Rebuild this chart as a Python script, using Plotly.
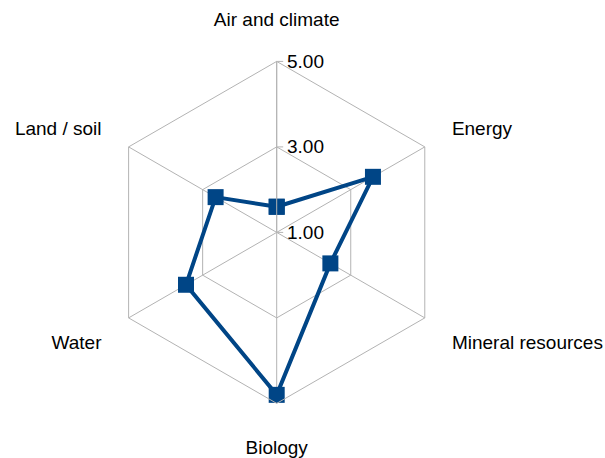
import plotly.graph_objects as go

categories = ["Air and climate", "Energy", "Mineral resources", "Biology", "Water", "Land / soil"]
values = [1.6, 3.6, 2.45, 4.8, 3.45, 2.65]
radial_ticks = [1, 3, 5]
radial_ticktext = ["1.00", "3.00", "5.00"]

fig = go.Figure()
fig.add_trace(go.Scatterpolar(
    r=values + values[:1],
    theta=categories + categories[:1],
    mode="lines+markers",
    line=dict(color="#004586", width=4),
    marker=dict(symbol="square", size=16, color="#004586"),
    showlegend=False,
))

W, H = 605, 458
cx, cy, R = 276.7, 232.4, 171
fig.update_layout(
    width=W, height=H,
    margin=dict(l=0, r=0, t=0, b=0),
    paper_bgcolor="white",
    font=dict(family="Liberation Sans, Arial, sans-serif", size=19, color="black"),
    polar=dict(
        domain=dict(x=[(cx - R) / W, (cx + R) / W], y=[(H - cy - R) / H, (H - cy + R) / H]),
        bgcolor="white",
        gridshape="linear",
        radialaxis=dict(
            range=[1, 5], tickvals=radial_ticks, ticktext=radial_ticktext,
            angle=90, tickangle=90, side="clockwise",
            showline=True, linecolor="#b3b3b3", linewidth=1,
            gridcolor="#b3b3b3", gridwidth=1,
            ticks="outside", ticklen=6, tickcolor="#b3b3b3",
            tickfont=dict(size=19, color="black"),
        ),
        angularaxis=dict(
            rotation=90, direction="clockwise",
            showline=True, linecolor="#b3b3b3", linewidth=1,
            gridcolor="#b3b3b3", gridwidth=1,
            ticks="outside", ticklen=27, tickcolor="rgba(0,0,0,0)",
            tickfont=dict(size=19, color="black"),
        ),
    ),
)
fig.write_html(
    "out.html",
    config={"displayModeBar": False},
    post_script="document.body.style.margin='0';document.body.style.overflow='hidden';",
)
